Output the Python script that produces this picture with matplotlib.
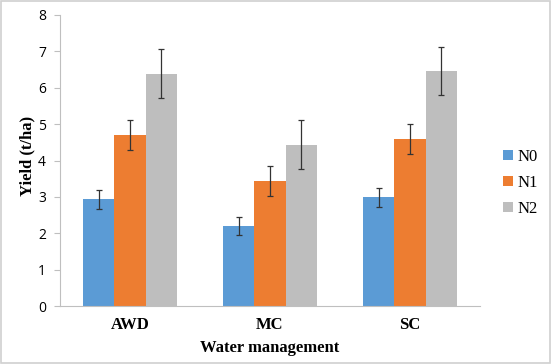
import matplotlib.pyplot as plt
import numpy as np
from matplotlib.patches import Rectangle

# Data
categories = ["AWD", "MC", "SC"]
series = ["N0", "N1", "N2"]
n0 = [2.93, 2.20, 2.99]
n1 = [4.69, 3.43, 4.60]
n2 = [6.39, 4.43, 6.46]
n0_err = [0.26, 0.26, 0.26]
n1_err = [0.41, 0.41, 0.41]
n2_err = [0.67, 0.67, 0.67]
yticks = [0, 1, 2, 3, 4, 5, 6, 7, 8]

colors = ["#5B9BD5", "#ED7D31", "#BEBEBE"]
serif = "Liberation Serif"

fig = plt.figure(figsize=(5.52, 3.64), dpi=100)
ax = fig.add_axes([0.1087, 0.1593, 0.7609, 0.7995])

x = np.arange(len(categories))
width = 0.222
values = [n0, n1, n2]
errs = [n0_err, n1_err, n2_err]
for i, (vals, err, col, name) in enumerate(zip(values, errs, colors, series)):
    ax.bar(x + (i - 1) * width, vals, width, color=col, label=name,
           yerr=err, capsize=2.5,
           error_kw=dict(ecolor="#333333", elinewidth=0.9, capthick=0.9))

ax.set_xlim(-0.5, 2.5)
ax.set_ylim(0, 8)
ax.set_yticks(yticks)
ax.set_yticklabels([str(t) for t in yticks], fontsize=10, family="Open Sans")
ax.set_xticks(x)
ax.set_xticklabels(categories, fontsize=12, family=serif, fontweight="bold")
ax.tick_params(axis="x", length=0, pad=8)
ax.tick_params(axis="y", length=4, color="#BFBFBF", pad=6)

for s in ["top", "right"]:
    ax.spines[s].set_visible(False)
for s in ["left", "bottom"]:
    ax.spines[s].set_color("#BFBFBF")
    ax.spines[s].set_linewidth(0.8)

ax.set_xlabel("Water management", fontsize=12, family=serif, fontweight="bold", labelpad=5)
ax.set_ylabel("Yield (t/ha)", fontsize=12, family=serif, fontweight="bold")
ax.yaxis.set_label_coords(-0.058, 0.517)

leg = ax.legend(loc="center left", bbox_to_anchor=(1.02, 0.423), frameon=False,
                prop={"family": serif, "size": 12}, handlelength=0.55, handleheight=0.55,
                handletextpad=0.3, labelspacing=0.6)

# light border around the whole picture
fig.patches.append(Rectangle((0.002, 0.003), 0.995, 0.994, transform=fig.transFigure,
                             fill=False, edgecolor="#D0D0D0", linewidth=1.2))

fig.savefig("out.png", dpi=100)
